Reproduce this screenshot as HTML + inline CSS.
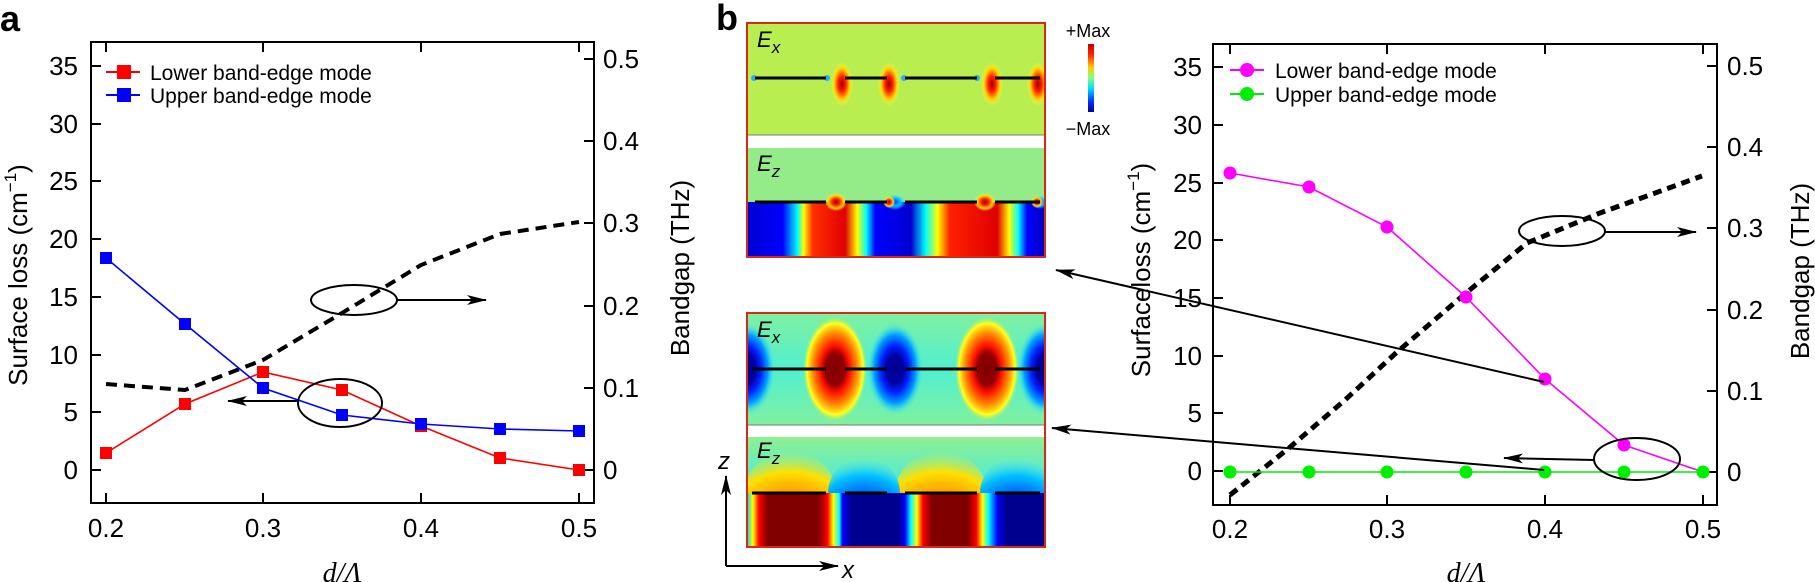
<!DOCTYPE html>
<html><head><meta charset="utf-8"><style>
html,body{margin:0;padding:0;background:#fff;}
svg{display:block;font-family:"Liberation Sans",Arial,sans-serif;}
</style></head><body>
<svg width="1815" height="582" viewBox="0 0 1815 582" xmlns="http://www.w3.org/2000/svg">
<defs>
<marker id="ah" viewBox="0 0 20 10" refX="19" refY="5" markerWidth="20" markerHeight="10" markerUnits="userSpaceOnUse" orient="auto">
<path d="M0,0 L20,5 L0,10 L5,5 Z" fill="#000"/></marker>
<linearGradient id="cb" x1="0" y1="0" x2="0" y2="1">
<stop offset="0" stop-color="#c00000"/><stop offset="0.15" stop-color="#ff2000"/><stop offset="0.35" stop-color="#ffd000"/><stop offset="0.5" stop-color="#80ff80"/><stop offset="0.65" stop-color="#00e0ff"/><stop offset="0.85" stop-color="#0030ff"/><stop offset="1" stop-color="#000090"/></linearGradient>
<linearGradient id="ez1" gradientUnits="userSpaceOnUse" x1="747" y1="0" x2="1045" y2="0">
<stop offset="0" stop-color="#0000d0"/><stop offset="0.12" stop-color="#0000ff"/><stop offset="0.17" stop-color="#00ffff"/><stop offset="0.19" stop-color="#ffff00"/><stop offset="0.22" stop-color="#ff3000"/><stop offset="0.33" stop-color="#e00000"/><stop offset="0.37" stop-color="#ffff00"/><stop offset="0.40" stop-color="#00ffff"/><stop offset="0.43" stop-color="#0000ff"/><stop offset="0.55" stop-color="#0000d0"/><stop offset="0.60" stop-color="#00ffff"/><stop offset="0.64" stop-color="#ffff00"/><stop offset="0.68" stop-color="#ff2000"/><stop offset="0.84" stop-color="#e00000"/><stop offset="0.88" stop-color="#ffff00"/><stop offset="0.91" stop-color="#00ffff"/><stop offset="0.94" stop-color="#0000ff"/><stop offset="1" stop-color="#0000c0"/></linearGradient>
<linearGradient id="ez2" gradientUnits="userSpaceOnUse" x1="747" y1="0" x2="1045" y2="0">
<stop offset="0" stop-color="#00d0ff"/><stop offset="0.02" stop-color="#ffff00"/><stop offset="0.04" stop-color="#ff0000"/><stop offset="0.07" stop-color="#800000"/><stop offset="0.24" stop-color="#800000"/><stop offset="0.27" stop-color="#ff0000"/><stop offset="0.29" stop-color="#ffff00"/><stop offset="0.31" stop-color="#00ffff"/><stop offset="0.32" stop-color="#0000ff"/><stop offset="0.35" stop-color="#00008f"/><stop offset="0.51" stop-color="#00008f"/><stop offset="0.53" stop-color="#0000ff"/><stop offset="0.55" stop-color="#00ffff"/><stop offset="0.57" stop-color="#ffff00"/><stop offset="0.59" stop-color="#ff0000"/><stop offset="0.62" stop-color="#800000"/><stop offset="0.74" stop-color="#800000"/><stop offset="0.77" stop-color="#ff0000"/><stop offset="0.79" stop-color="#ffff00"/><stop offset="0.81" stop-color="#00ffff"/><stop offset="0.84" stop-color="#0000ff"/><stop offset="0.87" stop-color="#00008f"/><stop offset="1" stop-color="#00008f"/></linearGradient>
<linearGradient id="bg2" x1="0" y1="0" x2="0" y2="1"><stop offset="0" stop-color="#80f0a0"/><stop offset="0.5" stop-color="#50f0d0"/><stop offset="1" stop-color="#80f0a0"/></linearGradient>
<linearGradient id="bg3" x1="0" y1="0" x2="0" y2="1"><stop offset="0" stop-color="#90f090"/><stop offset="1" stop-color="#40e8e8"/></linearGradient>
<radialGradient id="rl"><stop offset="0" stop-color="#800000"/><stop offset="0.3" stop-color="#900000"/><stop offset="0.45" stop-color="#ff1000"/><stop offset="0.7" stop-color="#ff9000"/><stop offset="0.88" stop-color="#ffff20"/><stop offset="1" stop-color="#b0f060" stop-opacity="0"/></radialGradient>
<radialGradient id="bl"><stop offset="0" stop-color="#000090"/><stop offset="0.3" stop-color="#0000a0"/><stop offset="0.5" stop-color="#0020ff"/><stop offset="0.75" stop-color="#00a0ff"/><stop offset="1" stop-color="#40f0f0" stop-opacity="0"/></radialGradient>
<radialGradient id="rs"><stop offset="0" stop-color="#a00000"/><stop offset="0.35" stop-color="#ff2000"/><stop offset="0.7" stop-color="#ffd000"/><stop offset="1" stop-color="#ffff40" stop-opacity="0"/></radialGradient>
<radialGradient id="cs"><stop offset="0" stop-color="#0040ff"/><stop offset="0.5" stop-color="#00c0ff"/><stop offset="1" stop-color="#60f0e0" stop-opacity="0"/></radialGradient>
<radialGradient id="rd" cx="0.5" cy="1" r="1"><stop offset="0" stop-color="#ff2000"/><stop offset="0.4" stop-color="#ff8000"/><stop offset="0.75" stop-color="#ffe000"/><stop offset="1" stop-color="#c0f060" stop-opacity="0"/></radialGradient>
<radialGradient id="bd" cx="0.5" cy="1" r="1"><stop offset="0" stop-color="#0000a0"/><stop offset="0.4" stop-color="#0040ff"/><stop offset="0.75" stop-color="#00c0ff"/><stop offset="1" stop-color="#60f0e0" stop-opacity="0"/></radialGradient>
<clipPath id="c1"><rect x="747" y="23" width="298" height="234"/></clipPath>
<clipPath id="c2"><rect x="747" y="313" width="298" height="234"/></clipPath>
</defs>

<!-- ===== Panel a ===== -->
<text x="0" y="31" font-size="36" font-weight="bold">a</text>
<rect x="91" y="42" width="503" height="461" fill="none" stroke="#000" stroke-width="2"/>
<g stroke="#000" stroke-width="2">
<line x1="106" y1="42" x2="106" y2="52"/><line x1="263" y1="42" x2="263" y2="52"/><line x1="421" y1="42" x2="421" y2="52"/><line x1="579" y1="42" x2="579" y2="52"/>
<line x1="106" y1="503" x2="106" y2="493"/><line x1="263" y1="503" x2="263" y2="493"/><line x1="421" y1="503" x2="421" y2="493"/><line x1="579" y1="503" x2="579" y2="493"/>
<line x1="91" y1="66" x2="101" y2="66"/><line x1="91" y1="124" x2="101" y2="124"/><line x1="91" y1="181" x2="101" y2="181"/><line x1="91" y1="239" x2="101" y2="239"/><line x1="91" y1="297" x2="101" y2="297"/><line x1="91" y1="355" x2="101" y2="355"/><line x1="91" y1="412" x2="101" y2="412"/><line x1="91" y1="470" x2="101" y2="470"/>
<line x1="594" y1="59" x2="584" y2="59"/><line x1="594" y1="141" x2="584" y2="141"/><line x1="594" y1="223" x2="584" y2="223"/><line x1="594" y1="306" x2="584" y2="306"/><line x1="594" y1="388" x2="584" y2="388"/><line x1="594" y1="470" x2="584" y2="470"/>
</g>
<g font-size="26" text-anchor="end">
<text x="78" y="75">35</text><text x="78" y="133">30</text><text x="78" y="190">25</text><text x="78" y="248">20</text><text x="78" y="306">15</text><text x="78" y="364">10</text><text x="78" y="421">5</text><text x="78" y="479">0</text>
</g>
<g font-size="26" text-anchor="start">
<text x="603" y="68">0.5</text><text x="603" y="150">0.4</text><text x="603" y="232">0.3</text><text x="603" y="315">0.2</text><text x="603" y="397">0.1</text><text x="603" y="479">0</text>
</g>
<g font-size="26" text-anchor="middle">
<text x="106" y="537">0.2</text><text x="263" y="537">0.3</text><text x="421" y="537">0.4</text><text x="579" y="537">0.5</text>
</g>
<text x="342" y="582" font-size="28" font-style="italic" text-anchor="middle" font-family="Liberation Serif,serif">d/Λ</text>
<text transform="translate(27,275) rotate(-90)" font-size="26" text-anchor="middle">Surface loss (cm<tspan font-size="17" dy="-11">−1</tspan><tspan dy="11">)</tspan></text>
<text transform="translate(689,268) rotate(-90)" font-size="26" text-anchor="middle">Bandgap (THz)</text>

<polyline points="106,384 185,390 263,360 342,313 421,265 500,234 579,222" fill="none" stroke="#000" stroke-width="4" stroke-dasharray="11,7"/>
<polyline points="106,453 185,404 263,372 342,390 421,426 500,458 579,470" fill="none" stroke="#f00" stroke-width="1.6"/>
<polyline points="106,258 185,324 263,388 342,415 421,424 500,429 579,431" fill="none" stroke="#00f" stroke-width="1.6"/>
<g fill="#f00"><rect x="100" y="447" width="12" height="12"/><rect x="179" y="398" width="12" height="12"/><rect x="257" y="366" width="12" height="12"/><rect x="336" y="384" width="12" height="12"/><rect x="415" y="420" width="12" height="12"/><rect x="494" y="452" width="12" height="12"/><rect x="573" y="464" width="12" height="12"/></g>
<g fill="#00f"><rect x="100" y="252" width="12" height="12"/><rect x="179" y="318" width="12" height="12"/><rect x="257" y="382" width="12" height="12"/><rect x="336" y="409" width="12" height="12"/><rect x="415" y="418" width="12" height="12"/><rect x="494" y="423" width="12" height="12"/><rect x="573" y="425" width="12" height="12"/></g>
<ellipse cx="354" cy="300" rx="43" ry="15" fill="none" stroke="#000" stroke-width="2"/>
<line x1="397" y1="300" x2="486" y2="300" stroke="#000" stroke-width="2" marker-end="url(#ah)"/>
<ellipse cx="340" cy="403" rx="42" ry="24" fill="none" stroke="#000" stroke-width="2"/>
<line x1="298" y1="401" x2="228" y2="401" stroke="#000" stroke-width="2" marker-end="url(#ah)"/>
<line x1="106" y1="72" x2="140" y2="72" stroke="#f00" stroke-width="2"/><rect x="117" y="65" width="14" height="14" fill="#f00"/>
<line x1="106" y1="95" x2="140" y2="95" stroke="#00f" stroke-width="2"/><rect x="117" y="88" width="14" height="14" fill="#00f"/>
<text x="150" y="80" font-size="21">Lower band-edge mode</text>
<text x="150" y="103" font-size="21">Upper band-edge mode</text>

<!-- ===== Panel b field maps ===== -->
<text x="716" y="30" font-size="36" font-weight="bold">b</text>
<g clip-path="url(#c1)">
<rect x="747" y="23" width="298" height="112" fill="#b8ee50"/>
<ellipse cx="842" cy="84" rx="11" ry="22" fill="url(#rs)"/><ellipse cx="889" cy="84" rx="11" ry="22" fill="url(#rs)"/>
<ellipse cx="992" cy="84" rx="11" ry="22" fill="url(#rs)"/><ellipse cx="1038" cy="84" rx="11" ry="22" fill="url(#rs)"/>
<g fill="#20b0ff"><circle cx="754" cy="78" r="3"/><circle cx="827" cy="78" r="3"/><circle cx="904" cy="78" r="3"/><circle cx="977" cy="78" r="3"/></g>
<g stroke="#000" stroke-width="3"><line x1="755" y1="78" x2="826" y2="78"/><line x1="845" y1="78" x2="887" y2="78"/><line x1="905" y1="78" x2="977" y2="78"/><line x1="995" y1="78" x2="1040" y2="78"/></g>
<rect x="747" y="135" width="298" height="13" fill="#fff"/>
<line x1="747" y1="135" x2="1045" y2="135" stroke="#708070" stroke-width="1"/>
<rect x="747" y="148" width="298" height="54" fill="#94ec88"/>
<rect x="747" y="202" width="298" height="56" fill="url(#ez1)"/>
<ellipse cx="836" cy="202" rx="11" ry="9" fill="url(#rs)"/><ellipse cx="985" cy="202" rx="11" ry="9" fill="url(#rs)"/>
<ellipse cx="895" cy="202" rx="11" ry="8" fill="url(#cs)"/><ellipse cx="1040" cy="202" rx="8" ry="7" fill="url(#cs)"/>
<ellipse cx="889" cy="202" rx="6" ry="6" fill="url(#rs)"/><ellipse cx="1037" cy="202" rx="6" ry="6" fill="url(#rs)"/>
<g stroke="#000" stroke-width="3"><line x1="755" y1="202" x2="826" y2="202"/><line x1="845" y1="202" x2="887" y2="202"/><line x1="905" y1="202" x2="977" y2="202"/><line x1="995" y1="202" x2="1040" y2="202"/></g>
</g>
<rect x="747" y="23" width="298" height="234" fill="none" stroke="#d82818" stroke-width="2"/>
<text x="757" y="47" font-size="22" font-style="italic">E<tspan font-size="17" dy="6">x</tspan></text>
<text x="757" y="171" font-size="22" font-style="italic">E<tspan font-size="17" dy="6">z</tspan></text>

<g clip-path="url(#c2)">
<rect x="747" y="313" width="298" height="112" fill="url(#bg2)"/>
<ellipse cx="835" cy="369" rx="32" ry="52" fill="url(#rl)"/><ellipse cx="987" cy="369" rx="32" ry="52" fill="url(#rl)"/>
<ellipse cx="747" cy="369" rx="28" ry="46" fill="url(#bl)"/><ellipse cx="895" cy="369" rx="28" ry="46" fill="url(#bl)"/><ellipse cx="1045" cy="369" rx="28" ry="46" fill="url(#bl)"/>
<g stroke="#000" stroke-width="3"><line x1="752" y1="369" x2="826" y2="369"/><line x1="845" y1="369" x2="887" y2="369"/><line x1="905" y1="369" x2="977" y2="369"/><line x1="995" y1="369" x2="1040" y2="369"/></g>
<rect x="747" y="425" width="298" height="12" fill="#fff"/>
<line x1="747" y1="425" x2="1045" y2="425" stroke="#708070" stroke-width="1"/>
<rect x="747" y="437" width="298" height="56" fill="url(#bg3)"/>
<ellipse cx="790" cy="493" rx="46" ry="42" fill="url(#rd)"/><ellipse cx="941" cy="493" rx="46" ry="42" fill="url(#rd)"/>
<ellipse cx="864" cy="493" rx="36" ry="36" fill="url(#bd)"/><ellipse cx="1016" cy="493" rx="36" ry="36" fill="url(#bd)"/>
<rect x="747" y="493" width="298" height="55" fill="url(#ez2)"/>
<g stroke="#000" stroke-width="3"><line x1="752" y1="493" x2="826" y2="493"/><line x1="845" y1="493" x2="887" y2="493"/><line x1="905" y1="493" x2="977" y2="493"/><line x1="995" y1="493" x2="1040" y2="493"/></g>
</g>
<rect x="747" y="313" width="298" height="234" fill="none" stroke="#d82818" stroke-width="2"/>
<text x="757" y="337" font-size="22" font-style="italic">E<tspan font-size="17" dy="6">x</tspan></text>
<text x="757" y="458" font-size="22" font-style="italic">E<tspan font-size="17" dy="6">z</tspan></text>

<rect x="1088" y="44" width="6" height="68" fill="url(#cb)"/>
<text x="1088" y="37" font-size="18" text-anchor="middle">+Max</text>
<text x="1088" y="135" font-size="18" text-anchor="middle">−Max</text>

<line x1="726" y1="566" x2="726" y2="476" stroke="#000" stroke-width="2" marker-end="url(#ah)"/>
<line x1="726" y1="566" x2="838" y2="566" stroke="#000" stroke-width="2" marker-end="url(#ah)"/>
<text x="718" y="469" font-size="24" font-style="italic">z</text>
<text x="842" y="578" font-size="24" font-style="italic">x</text>

<!-- ===== Panel b chart ===== -->
<rect x="1213" y="44" width="504" height="461" fill="none" stroke="#000" stroke-width="2"/>
<g stroke="#000" stroke-width="2">
<line x1="1230" y1="44" x2="1230" y2="54"/><line x1="1387" y1="44" x2="1387" y2="54"/><line x1="1545" y1="44" x2="1545" y2="54"/><line x1="1703" y1="44" x2="1703" y2="54"/>
<line x1="1230" y1="505" x2="1230" y2="495"/><line x1="1387" y1="505" x2="1387" y2="495"/><line x1="1545" y1="505" x2="1545" y2="495"/><line x1="1703" y1="505" x2="1703" y2="495"/>
<line x1="1213" y1="67" x2="1223" y2="67"/><line x1="1213" y1="125" x2="1223" y2="125"/><line x1="1213" y1="183" x2="1223" y2="183"/><line x1="1213" y1="240" x2="1223" y2="240"/><line x1="1213" y1="298" x2="1223" y2="298"/><line x1="1213" y1="356" x2="1223" y2="356"/><line x1="1213" y1="413" x2="1223" y2="413"/><line x1="1213" y1="471" x2="1223" y2="471"/>
<line x1="1717" y1="66" x2="1707" y2="66"/><line x1="1717" y1="147" x2="1707" y2="147"/><line x1="1717" y1="228" x2="1707" y2="228"/><line x1="1717" y1="310" x2="1707" y2="310"/><line x1="1717" y1="391" x2="1707" y2="391"/><line x1="1717" y1="472" x2="1707" y2="472"/>
</g>
<g font-size="26" text-anchor="end">
<text x="1202" y="76">35</text><text x="1202" y="134">30</text><text x="1202" y="192">25</text><text x="1202" y="249">20</text><text x="1202" y="307">15</text><text x="1202" y="365">10</text><text x="1202" y="422">5</text><text x="1202" y="480">0</text>
</g>
<g font-size="26">
<text x="1727" y="75">0.5</text><text x="1727" y="156">0.4</text><text x="1727" y="237">0.3</text><text x="1727" y="319">0.2</text><text x="1727" y="400">0.1</text><text x="1727" y="481">0</text>
</g>
<g font-size="26" text-anchor="middle">
<text x="1230" y="538">0.2</text><text x="1387" y="538">0.3</text><text x="1545" y="538">0.4</text><text x="1703" y="538">0.5</text>
</g>
<text x="1466" y="582" font-size="28" font-style="italic" text-anchor="middle" font-family="Liberation Serif,serif">d/Λ</text>
<text transform="translate(1150,270) rotate(-90)" font-size="26" text-anchor="middle">Surfaceloss (cm<tspan font-size="17" dy="-11">−1</tspan><tspan dy="11">)</tspan></text>
<text transform="translate(1809,271) rotate(-90)" font-size="26" text-anchor="middle">Bandgap (THz)</text>

<polyline points="1230,495 1289,448 1345,400 1397,352 1466,293 1527,243 1600,213 1702,176" fill="none" stroke="#000" stroke-width="5" stroke-dasharray="9,6"/>
<polyline points="1230,173 1309,187 1387,227 1466,297 1545,379 1624,445 1703,472" fill="none" stroke="#f0f" stroke-width="1.6"/>
<line x1="1230" y1="472" x2="1703" y2="472" stroke="#00ee00" stroke-width="1.6"/>
<g fill="#f0f"><circle cx="1230" cy="173" r="6.5"/><circle cx="1309" cy="187" r="6.5"/><circle cx="1387" cy="227" r="6.5"/><circle cx="1466" cy="297" r="6.5"/><circle cx="1545" cy="379" r="6.5"/><circle cx="1624" cy="445" r="6.5"/></g>
<g fill="#00ee00"><circle cx="1230" cy="472" r="6.5"/><circle cx="1309" cy="472" r="6.5"/><circle cx="1387" cy="472" r="6.5"/><circle cx="1466" cy="472" r="6.5"/><circle cx="1545" cy="472" r="6.5"/><circle cx="1624" cy="472" r="6.5"/><circle cx="1703" cy="472" r="6.5"/></g>
<ellipse cx="1562" cy="231" rx="43" ry="15" fill="none" stroke="#000" stroke-width="2"/>
<line x1="1605" y1="232" x2="1696" y2="232" stroke="#000" stroke-width="2" marker-end="url(#ah)"/>
<ellipse cx="1637" cy="459" rx="43" ry="21" fill="none" stroke="#000" stroke-width="2"/>
<line x1="1594" y1="460" x2="1504" y2="458" stroke="#000" stroke-width="2" marker-end="url(#ah)"/>
<line x1="1544" y1="382" x2="1056" y2="270" stroke="#000" stroke-width="2" marker-end="url(#ah)"/>
<line x1="1544" y1="470" x2="1052" y2="428" stroke="#000" stroke-width="2" marker-end="url(#ah)"/>
<line x1="1230" y1="70" x2="1264" y2="70" stroke="#f0f" stroke-width="2"/><circle cx="1247" cy="70" r="7" fill="#f0f"/>
<line x1="1230" y1="94" x2="1264" y2="94" stroke="#00ee00" stroke-width="2"/><circle cx="1247" cy="94" r="7" fill="#00ee00"/>
<text x="1275" y="78" font-size="21">Lower band-edge mode</text>
<text x="1275" y="102" font-size="21">Upper band-edge mode</text>
</svg>
</body></html>
